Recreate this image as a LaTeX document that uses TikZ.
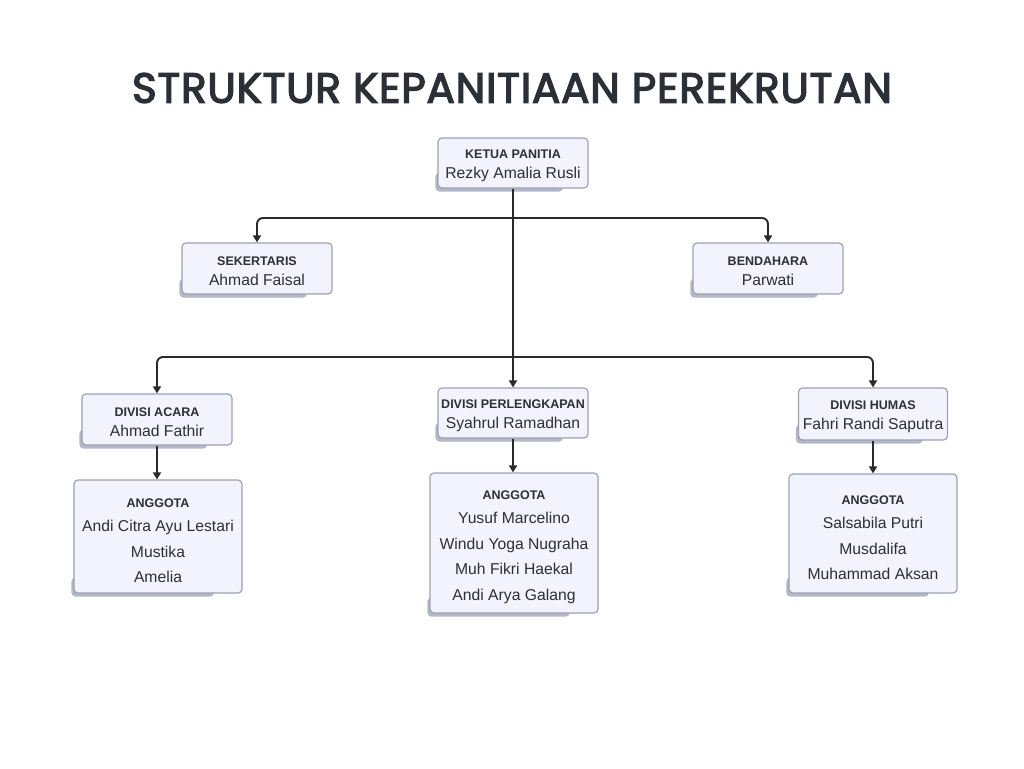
\documentclass[tikz,border=0pt]{standalone}
\usepackage{fontspec}
\setmainfont{Liberation Sans}
\newfontfamily\titlefont[FakeBold=3.2,LetterSpace=2]{Poppins}
\usetikzlibrary{arrows.meta,backgrounds,calc}
\definecolor{boxfill}{HTML}{F3F3FD}
\definecolor{boxline}{HTML}{9CA2B2}
\definecolor{shadowc}{HTML}{B3B7C6}
\definecolor{txt}{HTML}{2B2F36}
\definecolor{conn}{HTML}{2A2A2A}
\tikzset{
  orgbox/.style={draw=boxline, fill=boxfill, line width=1.2pt, rounded corners=4pt,
    inner sep=0pt, align=center, text=txt, font=\fontsize{15.7}{20}\selectfont},
  memberbox/.style={orgbox, font=\fontsize{15.7}{25.7}\selectfont},
  link/.style={draw=conn, line width=1.9pt, rounded corners=6pt,
    -{Triangle[length=7pt,width=8pt]}},
  shade/.style={fill=shadowc, rounded corners=4pt}
}
\newcommand{\hd}[2][13.8]{{\rule{0pt}{#1pt}\fontsize{12.5}{20}\selectfont\bfseries #2}}
\newcommand{\addshadow}[1]{%
  \begin{scope}[on background layer]
    \path[shade] ($(#1.south west)+(-2,3)$) rectangle ($(#1.south west)!0.83!(#1.south east)+(0,-16)$);
  \end{scope}}
\begin{document}
\begin{tikzpicture}[x=1pt,y=-1pt]
\useasboundingbox (0,0) rectangle (1024,768);
\begin{scope}[on background layer]
\fill[white] (0,0) rectangle (1024,768);
\end{scope}
\node[text=txt, font=\titlefont\fontsize{42}{48}\selectfont] (title) at (512,88) {STRUKTUR KEPANITIAAN PEREKRUTAN};

\node[orgbox, minimum width=150pt, minimum height=50pt] (ketua) at (513,163) {\hd{KETUA PANITIA}\\Rezky Amalia Rusli};
\node[orgbox, minimum width=150pt, minimum height=51pt] (sek) at (257,268.5) {\hd{SEKERTARIS}\\Ahmad Faisal};
\node[orgbox, minimum width=150pt, minimum height=51pt] (ben) at (768,268.5) {\hd{BENDAHARA}\\Parwati};
\node[orgbox, minimum width=150pt, minimum height=51pt] (acara) at (157,419.5) {\hd{DIVISI ACARA}\\Ahmad Fathir};
\node[orgbox, minimum width=150pt, minimum height=50pt] (perl) at (513,413) {\hd{DIVISI PERLENGKAPAN}\\Syahrul Ramadhan};
\node[orgbox, minimum width=149pt, minimum height=52pt] (humas) at (873,414) {\hd{DIVISI HUMAS}\\Fahri Randi Saputra};

\node[memberbox, minimum width=168pt, minimum height=113pt] (macara) at (158,536.5) {\hd[17.8]{ANGGOTA}\\[-2pt]Andi Citra Ayu Lestari\\Mustika\\Amelia};
\node[memberbox, minimum width=168pt, minimum height=140pt] (mperl) at (514,543) {\hd[17.8]{ANGGOTA}\\[-2pt]Yusuf Marcelino\\Windu Yoga Nugraha\\Muh Fikri Haekal\\Andi Arya Galang};
\node[memberbox, minimum width=168pt, minimum height=119pt] (mhumas) at (873,533.5) {\hd[17.8]{ANGGOTA}\\[-2pt]Salsabila Putri\\Musdalifa\\Muhammad Aksan};

\foreach \n in {ketua,sek,ben,acara,perl,humas,macara,mperl,mhumas}{\addshadow{\n}}

\coordinate (j1) at (513,218);
\coordinate (j2) at (513,357);
\draw[link] (ketua.south) -- (perl.north);
\draw[link] (j1) -| (sek.north);
\draw[link] (j1) -| (ben.north);
\draw[link] (j2) -| (acara.north);
\draw[link] (j2) -| (humas.north);
\draw[link] (acara.south) -- (acara.south |- macara.north);
\draw[link] (perl.south) -- (perl.south |- mperl.north);
\draw[link] (humas.south) -- (humas.south |- mhumas.north);
\end{tikzpicture}
\end{document}
